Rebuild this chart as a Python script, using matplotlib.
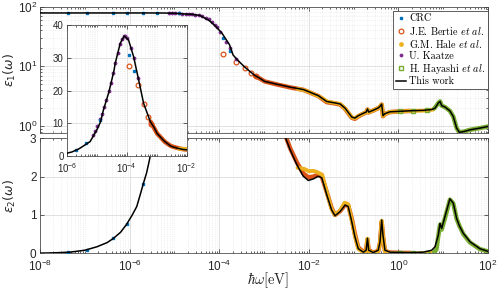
import numpy as np
import matplotlib.pyplot as plt
from matplotlib.ticker import FixedLocator, LogFormatterSciNotation, NullFormatter
from matplotlib.font_manager import FontProperties
from matplotlib.lines import Line2D

# ---- data (photon energy given as log10 of eV) ----
model_logE = [-8, -7.7, -7.33, -7.0, -6.73, -6.5, -6.36, -6.2, -6.065, -5.95,
              -5.84, -5.77, -5.69, -5.62, -5.563, -5.227, -5.0,
              -4.875, -4.78, -4.6, -4.555, -4.43, -4.387, -4.218, -4.084, -3.94, -3.77,
              -3.69, -3.6, -3.435, -3.27, -3.21, -3.09, -2.985, -2.75, -2.531, -2.42,
              -2.27, -2.123, -2.01, -1.9, -1.79, -1.71, -1.6, -1.49, -1.415, -1.3,
              -1.19, -1.12, -1.04, -0.97, -0.895, -0.78, -0.72, -0.69, -0.663, -0.56,
              -0.45, -0.41, -0.373, -0.344, -0.3, -0.188, 0.259, 0.556, 0.743, 0.817,
              0.89, 0.93, 0.967, 1.04, 1.15, 1.225, 1.3, 1.36, 1.45, 1.6, 1.82, 2.0]
model_eps1 = [78, 78, 78, 78, 78, 78, 78, 78, 78, 78,
              78, 78, 78, 78, 78, 77.8, 77.2,
              76, 75.2, 74, 73, 71, 68, 58, 47, 36, 23,
              15.5, 13, 9.8, 7.7, 7.1, 6.3, 5.6, 5.1, 4.7, 4.5,
              4.3, 4.1, 3.8, 3.5, 3.25, 2.95, 2.59, 2.5, 2.45, 2.35,
              2.0, 1.7, 1.42, 1.37, 1.5, 1.65, 1.72, 1.94, 1.72, 1.85,
              2.02, 2.14, 2.34, 1.5, 1.62, 1.74, 1.81, 1.84, 1.9, 2.0,
              2.44, 2.59, 2.2, 2.09, 1.8, 1.45, 0.93, 0.79, 0.81, 0.87, 0.93, 0.99]
model_eps2 = [0.005, 0.012, 0.03, 0.08, 0.17, 0.28, 0.39, 0.55, 0.76, 0.98,
              1.22, 1.5, 1.83, 2.1, 2.4, 4.4, 8.0,
              10.5, 14.1, 19.5, 21.2, 26, 28.3, 34.5, 36.7, 35.5, 30.4,
              27, 23.2, 16.1, 12, 10.5, 8.8, 6.9, 4.6, 3.05, 2.71,
              2.32, 2.01, 1.9, 1.94, 2.01, 1.97, 1.53, 1.13, 0.98, 1.09,
              1.26, 1.22, 0.82, 0.43, 0.12, 0.03, 0.08, 0.39, 0.08, 0.02,
              0.08, 0.3, 0.87, 0.47, 0.08, 0.03, 0.02, 0.03, 0.08, 0.17,
              0.47, 0.78, 0.65, 0.96, 1.42, 1.31, 0.91, 0.72, 0.52, 0.3, 0.12, 0.05]

crc_logE = [-7.37, -6.94, -6.38, -6.065, -5.7, -5.38, -4.89, -3.91, -3.75]
crc_eps1 = [78, 78, 78, 78, 78, 77.8, 76.5, 30, 18]
crc_eps2 = [0.03, 0.08, 0.39, 0.76, 1.8, 3.9, 11, 31, 26]

kaatze_logE = [-5.12, -5.05, -4.98, -4.9, -4.83, -4.75, -4.68, -4.6, -4.53, -4.45,
               -4.38, -4.3, -4.23, -4.16, -4.1, -4.05, -3.98, -3.85, -3.75, -3.62]
kaatze_eps1 = [77.8, 77.5, 77, 76.5, 76, 75, 74.5, 74, 72.5, 71,
               68.5, 65, 61, 55, 50, 45, 38, 26, 20, 13.5]
kaatze_eps2 = [6.5, 7.8, 9.3, 11.3, 13, 15, 17, 19.8, 22.3, 25.5,
               28.5, 31.5, 34.2, 35.8, 36.6, 36.6, 36, 33, 30, 24]

bertie_pts_logE = [-3.92, -3.63, -3.43, -3.3, -3.18]
bertie_pts_eps1 = [16, 12, 9.3, 7.6, 7.0]
bertie_pts_eps2 = [27.5, 21.7, 15.8, 11.8, 9.8]

bertie_logE = [-3.2, -3.1, -2.985, -2.72, -2.53, -2.42, -2.27, -2.12, -2.01, -1.9,
               -1.79, -1.71, -1.6, -1.49, -1.415, -1.3, -1.19, -1.12, -1.04, -0.97,
               -0.895, -0.78, -0.72, -0.69, -0.663, -0.56, -0.45, -0.41, -0.373, -0.344,
               -0.3, -0.19, 0.1, 0.27]
bertie_eps1 = [6.9, 6.3, 5.6, 5.0, 4.65, 4.45, 4.25, 4.05, 3.75, 3.45,
               3.2, 2.9, 2.52, 2.45, 2.4, 2.3, 1.95, 1.66, 1.38, 1.33,
               1.46, 1.62, 1.7, 1.9, 1.7, 1.83, 2.0, 2.1, 2.3, 1.47,
               1.6, 1.72, 1.78, 1.8]
bertie_eps2 = [10.5, 8.8, 6.9, 4.3, 3.1, 2.75, 2.38, 2.08, 1.98, 2.0,
               2.05, 2.0, 1.6, 1.18, 1.0, 1.1, 1.27, 1.25, 0.9, 0.5,
               0.15, 0.04, 0.08, 0.36, 0.08, 0.02, 0.06, 0.28, 0.82, 0.45,
               0.06, 0.02, 0.01, 0.01]

hale_logE = [-2.25, -2.1, -2.0, -1.9, -1.82, -1.7, -1.6, -1.49, -1.415, -1.3,
             -1.2, -1.12, -1.04, -0.97, -0.895, -0.78, -0.72, -0.69, -0.663, -0.56,
             -0.45, -0.41, -0.373, -0.344, -0.3, -0.19, 0.26, 0.56, 0.78]
hale_eps1 = [4.2, 4.0, 3.75, 3.45, 3.25, 2.95, 2.6, 2.5, 2.45, 2.35,
             2.0, 1.7, 1.4, 1.36, 1.48, 1.63, 1.7, 1.9, 1.7, 1.84,
             2.0, 2.12, 2.3, 1.48, 1.6, 1.73, 1.8, 1.82, 1.9]
hale_eps2 = [2.23, 2.2, 2.14, 2.15, 2.12, 2.05, 1.6, 1.15, 1.0, 1.12,
             1.32, 1.28, 0.85, 0.45, 0.12, 0.02, 0.06, 0.38, 0.06, 0.01,
             0.05, 0.28, 0.85, 0.45, 0.05, 0.01, 0.0, 0.0, 0.01]

hayashi_pts_logE = [0.04, 0.33, 0.63]
hayashi_pts_eps1 = [1.81, 1.82, 1.85]
hayashi_pts_eps2 = [0.0, 0.01, 0.02]

hayashi_logE = [0.8, 0.85, 0.89, 0.93, 0.967, 1.04, 1.15, 1.225, 1.3, 1.36,
                1.45, 1.6, 1.82, 2.0]
hayashi_eps1 = [1.98, 2.2, 2.44, 2.6, 2.2, 2.09, 1.8, 1.45, 0.93, 0.79,
                0.81, 0.87, 0.93, 0.99]
hayashi_eps2 = [0.03, 0.1, 0.45, 0.75, 0.62, 0.92, 1.4, 1.3, 0.9, 0.72,
                0.5, 0.28, 0.11, 0.05]

labels = ['CRC', r'J.E. Bertie $\mathit{et\ al.}$', r'G.M. Hale $\mathit{et\ al.}$',
          'U. Kaatze', r'H. Hayashi $\mathit{et\ al.}$', 'This work']

# MATLAB default colours
c_blue, c_orange, c_yellow = '#0072BD', '#D95319', '#EDB120'
c_purple, c_green = '#7E2F8E', '#77AC30'
tick_col = '#262626'


def ev(logs):
    return np.power(10.0, np.array(logs))


def style(ax, size, xmin, xmax):
    ax.set_xscale('log')
    ax.set_xlim(10.0 ** xmin, 10.0 ** xmax)
    majors = [10.0 ** k for k in range(xmin, xmax + 1, 2)]
    minors = [m * 10.0 ** k for k in range(xmin, xmax) for m in range(1, 10)
              if not (m == 1 and (k - xmin) % 2 == 0)]
    ax.xaxis.set_major_locator(FixedLocator(majors))
    ax.xaxis.set_minor_locator(FixedLocator(minors))
    ax.xaxis.set_minor_formatter(NullFormatter())
    ax.tick_params(which='both', direction='in', top=True, right=True,
                   colors=tick_col, labelsize=size, width=0.5)
    ax.tick_params(which='major', length=3)
    ax.tick_params(which='minor', length=1.6)
    for s in ax.spines.values():
        s.set_color('#444444')
        s.set_linewidth(0.55)
    ax.grid(True, which='major', color='#dcdcdc', lw=0.6)
    ax.grid(True, which='minor', color='#e4e4e4', lw=0.5, ls=':')
    ax.set_axisbelow(True)


def draw(ax, k):
    # k = 1 -> eps1, k = 2 -> eps2
    pick = lambda a, b: a if k == 1 else b
    ax.plot(ev(bertie_logE), pick(bertie_eps1, bertie_eps2), color=c_orange, lw=3.2,
            solid_capstyle='round', solid_joinstyle='round', zorder=2)
    ax.plot(ev(hale_logE), pick(hale_eps1, hale_eps2), color=c_yellow, lw=2.8,
            solid_capstyle='round', solid_joinstyle='round', zorder=2.2)
    ax.plot(ev(hayashi_logE), pick(hayashi_eps1, hayashi_eps2), color=c_green, lw=3.2,
            solid_capstyle='round', solid_joinstyle='round', zorder=2.3)
    ax.plot(ev(hayashi_pts_logE), pick(hayashi_pts_eps1, hayashi_pts_eps2), 's', ms=2.8,
            mfc='none', mec=c_green, mew=1.0, zorder=2.4)
    ax.plot(ev(bertie_pts_logE), pick(bertie_pts_eps1, bertie_pts_eps2), 'o', ms=3.4,
            mfc='none', mec=c_orange, mew=0.9, zorder=3)
    ax.plot(ev(kaatze_logE), pick(kaatze_eps1, kaatze_eps2), '.', ms=3.5,
            color=c_purple, zorder=3.2)
    ax.plot(ev(crc_logE), pick(crc_eps1, crc_eps2), 's', ms=2, color=c_blue, zorder=3.4)
    ax.plot(ev(model_logE), pick(model_eps1, model_eps2), color='k', lw=1.1, zorder=5)


fig = plt.figure(figsize=(4.98, 2.89), dpi=100)
plt.rcParams['font.family'] = ['Liberation Sans', 'DejaVu Sans']

ax1 = fig.add_axes([0.0803, 0.5398, 0.8996, 0.4377])
ax2 = fig.add_axes([0.0803, 0.1235, 0.8996, 0.3980])
axin = fig.add_axes([0.1345, 0.4602, 0.2400, 0.4523])

# top panel: eps1
style(ax1, 8.5, -8, 2)
ax1.set_yscale('log')
ax1.set_ylim(0.77, 100)
ax1.set_yticks([1, 10, 100])
ax1.yaxis.set_major_formatter(LogFormatterSciNotation())
ax1.tick_params(axis='x', labelbottom=False)
ax1.tick_params(axis='y', pad=2)
draw(ax1, 1)
ax1.set_ylabel(r'$\varepsilon_1(\omega)$', fontsize=9, color=tick_col)
ax1.yaxis.set_label_coords(-0.048, 0.5)

# bottom panel: eps2
style(ax2, 8.5, -8, 2)
ax2.set_ylim(0, 3)
ax2.set_yticks([0, 1, 2, 3])
ax2.xaxis.set_major_formatter(LogFormatterSciNotation())
ax2.tick_params(axis='y', pad=2.5)
ax2.tick_params(axis='x', pad=4)
draw(ax2, 2)
ax2.set_ylabel(r'$\varepsilon_2(\omega)$', fontsize=9, color=tick_col)
ax2.yaxis.set_label_coords(-0.048, 0.5)

# inset: eps2 around the Debye peak
style(axin, 7, -6, -2)
axin.set_ylim(0, 40)
axin.set_yticks([0, 10, 20, 30, 40])
axin.xaxis.set_major_formatter(LogFormatterSciNotation())
axin.tick_params(axis='y', which='major', pad=2.5)
axin.tick_params(axis='x', which='major', pad=3.5)
axin.set_facecolor('white')
draw(axin, 2)

fig.text(0.538, 0.031, r'$\hbar\omega$[eV]', fontsize=10.5, ha='center', va='center',
         family='cmr10', math_fontfamily='cm', color=tick_col)

handles = [
    Line2D([], [], ls='none', marker='s', ms=2, color=c_blue),
    Line2D([], [], ls='none', marker='o', ms=3.4, mfc='none', mec=c_orange, mew=0.9),
    Line2D([], [], ls='none', marker='o', ms=2.4, color=c_yellow),
    Line2D([], [], ls='none', marker='.', ms=3.5, color=c_purple),
    Line2D([], [], ls='none', marker='s', ms=2.8, mfc='none', mec=c_green, mew=1.0),
    Line2D([], [], color='k', lw=1.1),
]
leg = ax1.legend(handles, labels, loc='upper right', bbox_to_anchor=(1.0, 0.962),
                 borderaxespad=0, prop=FontProperties(family='cmr10', size=7.3, math_fontfamily='cm'),
                 handlelength=1.0, handletextpad=0.3, labelspacing=0.12,
                 borderpad=0.25, fancybox=False, framealpha=1, edgecolor='#444444')
leg.get_frame().set_linewidth(0.6)
leg.set_zorder(10)

fig.savefig('out.png', dpi=100)
